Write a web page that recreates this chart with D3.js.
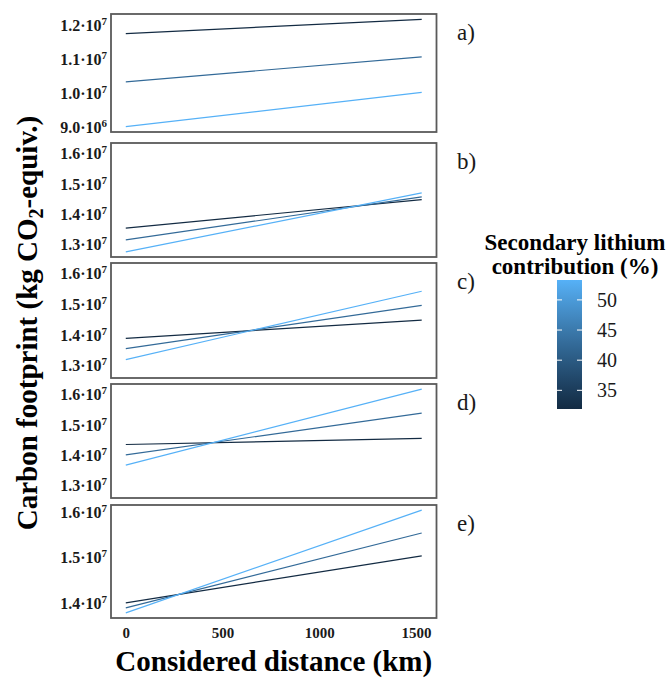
<!DOCTYPE html>
<html>
<head>
<meta charset="utf-8">
<script src="https://d3js.org/d3.v7.min.js"></script>
<style>
  body { margin: 0; background: #fff; }
  svg text { font-family: "Liberation Serif", "Times New Roman", serif; }
</style>
</head>
<body>
<div id="my_dataviz"></div>
<script>
// data
var panelLabels = ["a)", "b)", "c)", "d)", "e)"];
var scaleGroup = ["a", "bcd", "bcd", "bcd", "e"];
var shares = [31.9, 42.6, 53.3];        // secondary lithium contribution (%)
var distances = [0, 1530];              // km
// one [start, end] pair per share, same order as shares
var footprintA = [[11.75e6, 12.165e6], [10.34e6, 11.07e6], [9.03e6, 10.03e6]];
var footprintB = [[13.55e6, 14.49e6], [13.16e6, 14.58e6], [12.77e6, 14.71e6]];
var footprintC = [[13.89e6, 14.49e6], [13.56e6, 14.97e6], [13.20e6, 15.43e6]];
var footprintD = [[14.36e6, 14.56e6], [14.02e6, 15.39e6], [13.68e6, 16.18e6]];
var footprintE = [[14.01e6, 15.04e6], [13.90e6, 15.54e6], [13.79e6, 16.04e6]];
var yTicksA = [9e6, 1.0e7, 1.1e7, 1.2e7];
var yTicksBCD = [1.3e7, 1.4e7, 1.5e7, 1.6e7];
var yTicksE = [1.4e7, 1.5e7, 1.6e7];
var xTicks = [0, 500, 1000, 1500];
var legendTicks = [35, 40, 45, 50];

var footprints = [footprintA, footprintB, footprintC, footprintD, footprintE];
var yTicksByGroup = { a: yTicksA, bcd: yTicksBCD, e: yTicksE };

var serif = "Liberation Serif";

// layout
var width = 671, height = 679;
var left = 111, right = 436.5;
var tops = [14, 143, 263, 384, 505],
    bottoms = [132, 257, 378, 498, 618];

var svg = d3.select("#my_dataviz")
  .append("svg")
    .attr("width", width)
    .attr("height", height);

// x scale with ggplot style 5% expansion
var xPad = (d3.max(distances) - d3.min(distances)) * 0.05;
var x = d3.scaleLinear()
  .domain([d3.min(distances) - xPad, d3.max(distances) + xPad])
  .range([left, right]);

// shared y domain per scale group
var yDomains = {};
scaleGroup.forEach(function(g, i) {
  var vals = d3.merge(footprints[i]);
  if (!yDomains[g]) yDomains[g] = [Infinity, -Infinity];
  yDomains[g][0] = Math.min(yDomains[g][0], d3.min(vals));
  yDomains[g][1] = Math.max(yDomains[g][1], d3.max(vals));
});
Object.keys(yDomains).forEach(function(g) {
  var d = yDomains[g], pad = (d[1] - d[0]) * 0.05;
  yDomains[g] = [d[0] - pad, d[1] + pad];
});

var color = d3.scaleLinear()
  .domain([d3.min(shares), d3.max(shares)])
  .range(["#132B43", "#56B1F7"])
  .interpolate(d3.interpolateLab);

// label like 1.2·10^7
function sciLabel(sel) {
  sel.each(function(d) {
    var e = Math.floor(Math.log10(d));
    var m = (d / Math.pow(10, e)).toFixed(1);
    var t = d3.select(this).text(null);
    t.append("tspan").text(m + "\u00b710");
    t.append("tspan").attr("font-size", 11).attr("dy", -6).text(e);
  });
}

panelLabels.forEach(function(lab, i) {
  var y = d3.scaleLinear()
    .domain(yDomains[scaleGroup[i]])
    .range([bottoms[i], tops[i]]);

  var g = svg.append("g");

  // y axis labels only
  g.append("g")
    .attr("transform", "translate(" + left + ",0)")
    .call(d3.axisLeft(y).tickValues(yTicksByGroup[scaleGroup[i]]).tickSize(0).tickPadding(4))
    .call(function(a) { a.select(".domain").remove(); })
    .call(function(a) {
      a.selectAll(".tick text")
        .attr("font-family", serif)
        .attr("font-weight", "bold")
        .attr("font-size", 16)
        .attr("fill", "#1a1a1a")
        .call(sciLabel);
    });

  // lines, one per share
  var line = d3.line()
    .x(function(d, j) { return x(distances[j]); })
    .y(function(d) { return y(d); });

  g.selectAll(".series")
    .data(footprints[i])
    .enter()
    .append("path")
      .attr("d", line)
      .attr("fill", "none")
      .attr("stroke", function(d, k) { return color(shares[k]); })
      .attr("stroke-width", 1.2);

  // panel border
  g.append("rect")
    .attr("x", left)
    .attr("y", tops[i])
    .attr("width", right - left)
    .attr("height", bottoms[i] - tops[i])
    .attr("fill", "none")
    .attr("stroke", "#5a5a5a")
    .attr("stroke-width", 1.8);

  // panel tag
  g.append("text")
    .attr("x", 457)
    .attr("y", tops[i] + 26)
    .attr("font-family", serif)
    .attr("font-size", 23)
    .attr("fill", "#1a1a1a")
    .text(lab);
});

// x axis under the last panel
svg.append("g")
  .attr("transform", "translate(0," + bottoms[4] + ")")
  .call(d3.axisBottom(x).tickValues(xTicks).tickFormat(d3.format("d")).tickSize(0).tickPadding(9))
  .call(function(a) { a.select(".domain").remove(); })
  .call(function(a) {
    a.selectAll(".tick text")
      .attr("font-family", serif)
      .attr("font-weight", "bold")
      .attr("font-size", 15)
      .attr("fill", "#1a1a1a");
  });

// axis titles
svg.append("text")
  .attr("x", (left + right) / 2)
  .attr("y", 671)
  .attr("text-anchor", "middle")
  .attr("font-family", serif)
  .attr("font-weight", "bold")
  .attr("font-size", 29)
  .text("Considered distance (km)");

var yTitle = svg.append("text")
  .attr("transform", "translate(37,323) rotate(-90)")
  .attr("text-anchor", "middle")
  .attr("font-family", serif)
  .attr("font-weight", "bold")
  .attr("font-size", 29);
yTitle.append("tspan").text("Carbon footprint (kg CO");
yTitle.append("tspan").attr("font-size", 20).attr("dy", 6).text("2");
yTitle.append("tspan").attr("dy", -6).text("-equiv.)");

// legend
var legendTitle = svg.append("text")
  .attr("text-anchor", "middle")
  .attr("font-family", serif)
  .attr("font-weight", "bold")
  .attr("font-size", 23);
legendTitle.append("tspan").attr("x", 575).attr("y", 250).text("Secondary lithium");
legendTitle.append("tspan").attr("x", 575).attr("y", 274).text("contribution (%)");

var barX = 557, barW = 25;
var yBar = d3.scaleLinear()
  .domain([d3.min(shares), d3.max(shares)])
  .range([409, 280]);

var grad = svg.append("defs").append("linearGradient")
  .attr("id", "bar-grad")
  .attr("x1", 0).attr("y1", 1).attr("x2", 0).attr("y2", 0);
grad.selectAll("stop")
  .data(d3.range(0, 1.0001, 0.1))
  .enter().append("stop")
    .attr("offset", function(d) { return d; })
    .attr("stop-color", function(d) { return color(yBar.domain()[0] + d * (yBar.domain()[1] - yBar.domain()[0])); });

svg.append("rect")
  .attr("x", barX)
  .attr("y", yBar.range()[1])
  .attr("width", barW)
  .attr("height", yBar.range()[0] - yBar.range()[1])
  .attr("fill", "url(#bar-grad)");

// white tick marks on both edges of the bar
legendTicks.forEach(function(t) {
  [barX, barX + barW - 5].forEach(function(bx) {
    svg.append("line")
      .attr("x1", bx).attr("x2", bx + 5)
      .attr("y1", yBar(t)).attr("y2", yBar(t))
      .attr("stroke", "#fff")
      .attr("stroke-width", 1);
  });
});

svg.append("g")
  .attr("transform", "translate(" + (barX + barW) + ",0)")
  .call(d3.axisRight(yBar).tickValues(legendTicks).tickSize(0).tickPadding(15))
  .call(function(a) { a.select(".domain").remove(); })
  .call(function(a) {
    a.selectAll(".tick text")
      .attr("font-family", serif)
      .attr("font-size", 20)
      .attr("fill", "#1a1a1a");
  });
</script>
</body>
</html>
